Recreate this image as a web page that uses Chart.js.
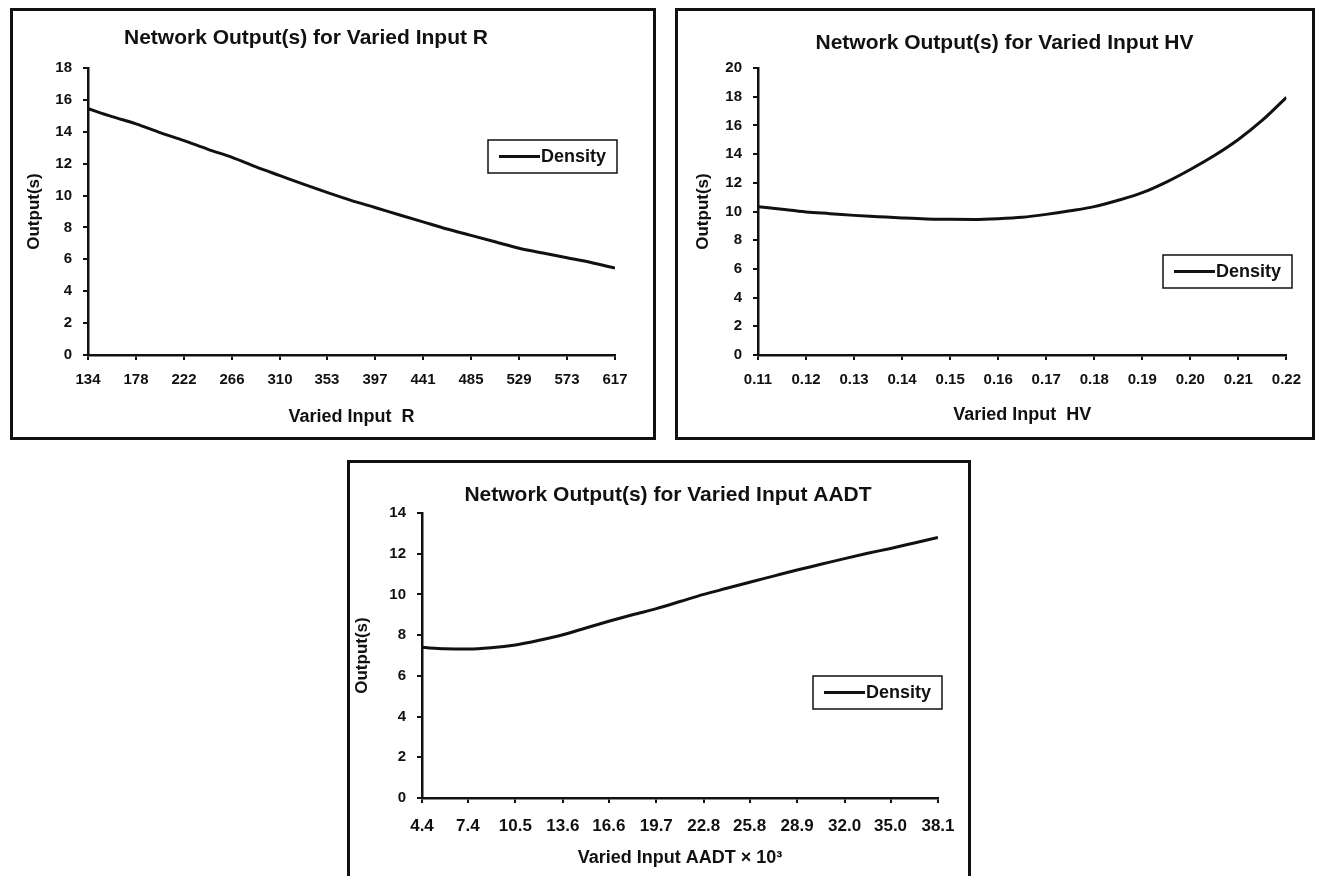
<!DOCTYPE html>
<html>
<head>
<meta charset="utf-8">
<script src="https://cdn.jsdelivr.net/npm/chart.js@4/dist/chart.umd.min.js"></script>
<style>
  html, body { margin: 0; padding: 0; background: #fff; overflow: hidden; }
  body { width: 1322px; height: 876px; position: relative; }
  .panel { position: absolute; border: 3px solid #111; box-sizing: border-box; background: #fff; }
  .panel canvas { display: block; }
</style>
</head>
<body>
<div class="panel" style="left:10px; top:8px; width:646px; height:432px;"><canvas id="chartR" width="640" height="426"></canvas></div>
<div class="panel" style="left:675px; top:8px; width:640px; height:432px;"><canvas id="chartHV" width="634" height="426"></canvas></div>
<div class="panel" style="left:347px; top:460px; width:624px; height:424px;"><canvas id="chartAADT" width="618" height="418"></canvas></div>
<script>
// tick labels on the x axes
const rTicks = [134, 178, 222, 266, 310, 353, 397, 441, 485, 529, 573, 617];
const hvTicks = [0.11, 0.12, 0.13, 0.14, 0.15, 0.16, 0.17, 0.18, 0.19, 0.20, 0.21, 0.22];
const aadtTicks = [4.4, 7.4, 10.5, 13.6, 16.6, 19.7, 22.8, 25.8, 28.9, 32.0, 35.0, 38.1];

// Density vs R
const rX = [134, 156, 178, 200, 222, 244, 266, 288, 310, 332, 353, 375, 397, 419, 441, 463, 485, 507, 529, 551, 573, 595, 617];
const rY = [15.45, 14.95, 14.5, 13.95, 13.45, 12.9, 12.4, 11.8, 11.25, 10.7, 10.2, 9.7, 9.25, 8.8, 8.35, 7.9, 7.5, 7.1, 6.7, 6.4, 6.1, 5.8, 5.45];

// Density vs HV
const hvX = [0.11, 0.115, 0.12, 0.125, 0.13, 0.135, 0.14, 0.145, 0.15, 0.155, 0.16, 0.165, 0.17, 0.175, 0.18, 0.185, 0.19, 0.195, 0.20, 0.205, 0.21, 0.215, 0.22];
const hvY = [10.34, 10.15, 9.97, 9.85, 9.73, 9.64, 9.55, 9.48, 9.46, 9.45, 9.5, 9.6, 9.8, 10.05, 10.34, 10.78, 11.31, 12.05, 12.93, 13.9, 15.02, 16.36, 17.95];

// Density vs AADT (x 10^3)
const aadtX = [4.4, 5.9, 7.4, 8.9, 10.5, 12.05, 13.6, 15.1, 16.6, 18.15, 19.7, 21.25, 22.8, 24.3, 25.8, 27.35, 28.9, 30.45, 32.0, 33.5, 35.0, 36.55, 38.1];
const aadtY = [7.4, 7.33, 7.32, 7.38, 7.52, 7.75, 8.02, 8.35, 8.68, 9.0, 9.3, 9.65, 10.0, 10.3, 10.6, 10.9, 11.2, 11.48, 11.76, 12.02, 12.26, 12.53, 12.8];

const FONT = "'Liberation Sans', Arial, sans-serif";

// legend drawn as a framed box inside the plot, like the original
const boxLegend = {
  id: 'boxLegend',
  afterDraw(chart, args, o) {
    const ctx = chart.ctx;
    const label = chart.data.datasets[0].label;
    const my = o.y + o.h / 2;
    ctx.save();
    ctx.fillStyle = '#fff';
    ctx.fillRect(o.x, o.y, o.w, o.h);
    ctx.strokeStyle = '#111';
    ctx.lineWidth = 1.5;
    ctx.strokeRect(o.x, o.y, o.w, o.h);
    ctx.beginPath();
    ctx.moveTo(o.x + 11, my);
    ctx.lineTo(o.x + 52, my);
    ctx.lineWidth = 3;
    ctx.stroke();
    ctx.fillStyle = '#111';
    ctx.font = 'bold 18px ' + FONT;
    ctx.textBaseline = 'middle';
    ctx.fillText(label, o.x + 53, my + 1);
    ctx.restore();
  }
};

// nudge the chart title sideways
const titleShift = {
  id: 'titleShift',
  afterLayout(chart, args, o) {
    const t = chart.titleBlock;
    if (t && o.dx) { t.left += o.dx; t.right += o.dx; }
  }
};

function makeChart(id, cfg) {
  const pts = cfg.xs.map((x, i) => ({ x: x, y: cfg.ys[i] }));
  return new Chart(document.getElementById(id), {
    type: 'line',
    data: {
      datasets: [{
        label: 'Density',
        data: pts,
        borderColor: '#111',
        borderWidth: 3,
        pointRadius: 0,
        cubicInterpolationMode: 'monotone',
        fill: false
      }]
    },
    options: {
      responsive: false,
      animation: false,
      layout: { padding: { left: 0, right: cfg.rightPad, top: 0, bottom: 0 } },
      plugins: {
        legend: { display: false },
        tooltip: { enabled: false },
        title: {
          display: true,
          text: cfg.title,
          color: '#111',
          font: { family: FONT, size: 21, weight: 'bold' },
          padding: { top: cfg.titleTop, bottom: cfg.titleBottom }
        },
        boxLegend: cfg.legend,
        titleShift: { dx: cfg.titleDx }
      },
      scales: {
        x: {
          type: 'linear',
          min: cfg.xTicks[0],
          max: cfg.xTicks[cfg.xTicks.length - 1],
          afterBuildTicks: s => { s.ticks = cfg.xTicks.map(v => ({ value: v })); },
          afterFit: s => { s.height = cfg.xHeight; },
          ticks: {
            autoSkip: false,
            maxRotation: 0,
            padding: cfg.xTickPad,
            color: '#111',
            font: { family: FONT, size: cfg.xTickSize, weight: 'bold' },
            callback: v => v.toFixed(cfg.xDec)
          },
          grid: { display: true, drawOnChartArea: false, drawTicks: true, tickLength: 5, color: '#111', lineWidth: 2 },
          border: { display: true, color: '#111', width: 2.5 },
          title: {
            display: true,
            text: cfg.xTitle,
            color: '#111',
            font: { family: FONT, size: 18, weight: 'bold' },
            padding: { top: 0, bottom: cfg.xTitlePad }
          }
        },
        y: {
          min: 0,
          max: cfg.yMax,
          afterFit: s => { s.width = cfg.yWidth; },
          ticks: {
            stepSize: 2,
            padding: 11,
            color: '#111',
            font: { family: FONT, size: cfg.yTickSize, weight: 'bold' }
          },
          grid: { display: true, drawOnChartArea: false, drawTicks: true, tickLength: 5, color: '#111', lineWidth: 2 },
          border: { display: true, color: '#111', width: 2.5 },
          title: {
            display: true,
            text: 'Output(s)',
            color: '#111',
            font: { family: FONT, size: 17, weight: 'bold' },
            padding: { top: cfg.yTitlePad, bottom: 0 }
          }
        }
      }
    },
    plugins: [boxLegend, titleShift]
  });
}

makeChart('chartR', {
  title: 'Network Output(s) for Varied Input R',
  xTitle: 'Varied Input  R',
  xs: rX, ys: rY, xTicks: rTicks, xDec: 0, yMax: 18,
  rightPad: 38, titleTop: 14.4, titleBottom: 17.4, titleDx: -8,
  xHeight: 82, xTickPad: 11, xTickSize: 15, yTickSize: 15,
  xTitlePad: 9, yWidth: 75, yTitlePad: 11,
  legend: { x: 475, y: 129, w: 129, h: 33 }
});

makeChart('chartHV', {
  title: 'Network Output(s) for Varied Input HV',
  xTitle: 'Varied Input  HV',
  xs: hvX, ys: hvY, xTicks: hvTicks, xDec: 2, yMax: 20,
  rightPad: 25, titleTop: 19.4, titleBottom: 12.4, titleDx: 22,
  xHeight: 82, xTickPad: 11, xTickSize: 15, yTickSize: 15,
  xTitlePad: 11, yWidth: 80, yTitlePad: 15,
  legend: { x: 485, y: 244, w: 129, h: 33 }
});

makeChart('chartAADT', {
  title: 'Network Output(s) for Varied Input AADT',
  xTitle: 'Varied Input AADT \u00d7 10\u00b3',
  xs: aadtX, ys: aadtY, xTicks: aadtTicks, xDec: 1, yMax: 14,
  rightPad: 30, titleTop: 19.4, titleBottom: 5.4, titleDx: 24,
  xHeight: 83, xTickPad: 13, xTickSize: 17, yTickSize: 15,
  xTitlePad: 12, yWidth: 72, yTitlePad: 2,
  legend: { x: 463, y: 213, w: 129, h: 33 }
});
</script>
</body>
</html>
